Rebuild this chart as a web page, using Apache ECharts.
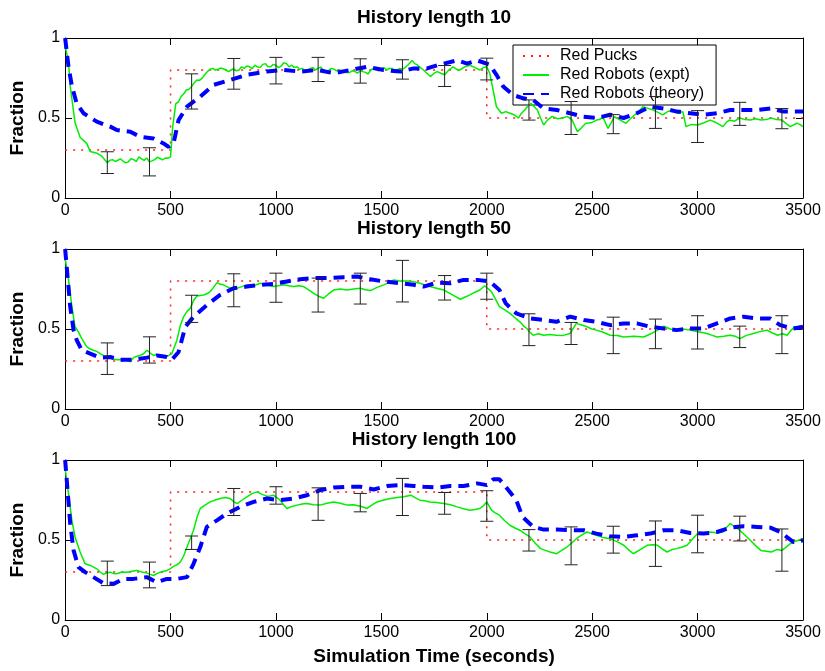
<!DOCTYPE html>
<html>
<head>
<meta charset="utf-8">
<script src="https://cdn.jsdelivr.net/npm/echarts@6/dist/echarts.min.js"></script>
<style>
html,body{margin:0;padding:0;background:#fff;}
#chart{width:825px;height:671px;}
</style>
</head>
<body>
<div id="chart"></div>
<script>
// ---- Data ----
const titles = ['History length 10', 'History length 50', 'History length 100'];
const xTicks = [0, 500, 1000, 1500, 2000, 2500, 3000, 3500];
const yTicks = [0, 0.5, 1];
const seriesNames = ['Red Pucks', 'Red Robots (expt)', 'Red Robots (theory)'];

const pucks = [[0,0.3],[500,0.3],[500,0.8],[2000,0.8],[2000,0.5],[3500,0.5]];

const expt10 = [[0,0.95],[16,0.85],[24,0.70],[47,0.47],[71,0.38],[103,0.34],[119,0.29],[150,0.28],[175,0.26],[200,0.22],[212,0.235],[225,0.24],[237,0.228],[250,0.236],[262,0.245],[275,0.23],[287,0.22],[300,0.226],[312,0.245],[325,0.24],[337,0.228],[350,0.257],[362,0.245],[375,0.235],[387,0.25],[400,0.226],[412,0.232],[425,0.24],[437,0.255],[450,0.247],[462,0.238],[475,0.25],[487,0.248],[500,0.257],[510,0.445],[525,0.59],[537,0.6],[550,0.634],[562,0.65],[575,0.675],[587,0.68],[600,0.697],[612,0.72],[625,0.738],[637,0.735],[650,0.749],[662,0.77],[675,0.79],[687,0.805],[700,0.81],[712,0.8],[725,0.805],[737,0.812],[750,0.808],[762,0.8],[775,0.79],[787,0.8],[800,0.808],[812,0.795],[825,0.8],[837,0.82],[850,0.81],[862,0.825],[875,0.82],[887,0.808],[900,0.83],[912,0.82],[925,0.815],[937,0.835],[950,0.84],[962,0.82],[975,0.82],[987,0.835],[1000,0.83],[1012,0.815],[1025,0.825],[1037,0.845],[1050,0.84],[1062,0.82],[1075,0.83],[1087,0.815],[1100,0.82],[1112,0.805],[1125,0.81],[1137,0.795],[1150,0.80],[1162,0.81],[1175,0.815],[1187,0.8],[1200,0.81],[1212,0.818],[1225,0.8],[1237,0.792],[1250,0.797],[1262,0.81],[1275,0.805],[1287,0.795],[1300,0.80],[1312,0.795],[1325,0.79],[1337,0.783],[1350,0.785],[1362,0.795],[1375,0.79],[1387,0.78],[1400,0.795],[1412,0.79],[1425,0.785],[1437,0.775],[1450,0.80],[1462,0.81],[1475,0.805],[1487,0.795],[1500,0.81],[1512,0.815],[1525,0.8],[1537,0.81],[1550,0.81],[1562,0.8],[1575,0.8],[1587,0.81],[1600,0.805],[1612,0.815],[1625,0.83],[1646,0.86],[1658,0.84],[1670,0.833],[1685,0.815],[1700,0.80],[1716,0.78],[1733,0.76],[1750,0.78],[1765,0.79],[1782,0.78],[1800,0.77],[1820,0.8],[1840,0.82],[1856,0.805],[1872,0.80],[1896,0.82],[1920,0.83],[1944,0.815],[1967,0.80],[1984,0.815],[2000,0.82],[2014,0.78],[2030,0.675],[2046,0.57],[2070,0.53],[2090,0.54],[2110,0.53],[2130,0.52],[2150,0.50],[2165,0.53],[2180,0.55],[2195,0.575],[2210,0.59],[2225,0.57],[2240,0.55],[2255,0.5],[2270,0.456],[2290,0.49],[2310,0.51],[2335,0.495],[2360,0.50],[2382,0.51],[2405,0.487],[2430,0.414],[2450,0.44],[2470,0.467],[2495,0.47],[2520,0.487],[2535,0.49],[2550,0.508],[2575,0.435],[2590,0.47],[2605,0.508],[2630,0.49],[2660,0.467],[2685,0.5],[2710,0.53],[2725,0.545],[2740,0.57],[2765,0.56],[2790,0.55],[2812,0.535],[2835,0.52],[2858,0.54],[2880,0.55],[2905,0.53],[2930,0.54],[2945,0.446],[2970,0.46],[3000,0.456],[3030,0.47],[3060,0.487],[3090,0.47],[3120,0.446],[3135,0.47],[3150,0.487],[3175,0.48],[3200,0.50],[3225,0.49],[3250,0.487],[3275,0.495],[3300,0.487],[3325,0.49],[3350,0.50],[3375,0.49],[3400,0.487],[3420,0.465],[3440,0.446],[3470,0.467],[3485,0.46],[3500,0.446]];

const theory10 = [[0,1],[16,0.82],[32,0.70],[55,0.59],[87,0.53],[150,0.477],[214,0.446],[245,0.425],[309,0.414],[356,0.383],[419,0.372],[467,0.341],[490,0.32],[514,0.34],[538,0.487],[578,0.571],[641,0.634],[704,0.707],[783,0.738],[862,0.77],[957,0.79],[1036,0.80],[1115,0.79],[1195,0.80],[1274,0.78],[1353,0.80],[1432,0.82],[1511,0.80],[1590,0.79],[1653,0.81],[1717,0.81],[1765,0.83],[1796,0.84],[1860,0.86],[1907,0.84],[1955,0.86],[2014,0.833],[2046,0.77],[2078,0.697],[2125,0.644],[2173,0.623],[2220,0.613],[2268,0.56],[2332,0.55],[2395,0.53],[2458,0.508],[2522,0.50],[2585,0.52],[2649,0.50],[2712,0.53],[2775,0.571],[2838,0.56],[2902,0.54],[2965,0.53],[3028,0.52],[3092,0.53],[3155,0.55],[3218,0.55],[3282,0.55],[3345,0.56],[3408,0.54],[3472,0.54],[3500,0.54]];

const err10 = [[200,0.153,0.289],[400,0.138,0.314],[600,0.556,0.776],[800,0.680,0.872],[1000,0.713,0.879],[1200,0.728,0.879],[1400,0.718,0.870],[1600,0.743,0.864],[1800,0.697,0.828],[2000,0.738,0.874],[2200,0.487,0.613],[2400,0.397,0.603],[2600,0.402,0.521],[2800,0.435,0.634],[3000,0.347,0.546],[3200,0.454,0.598],[3400,0.433,0.559]];

const expt50 = [[0,0.943],[16,0.807],[32,0.64],[47,0.514],[63,0.482],[79,0.44],[103,0.388],[118,0.375],[134,0.367],[150,0.36],[166,0.346],[182,0.335],[198,0.325],[220,0.315],[245,0.308],[270,0.31],[293,0.304],[310,0.295],[324,0.321],[340,0.33],[356,0.335],[372,0.345],[388,0.367],[404,0.35],[419,0.335],[435,0.34],[451,0.329],[467,0.335],[483,0.329],[506,0.346],[530,0.43],[546,0.52],[562,0.577],[578,0.61],[593,0.629],[610,0.68],[625,0.706],[641,0.71],[657,0.713],[672,0.72],[688,0.734],[704,0.76],[720,0.79],[736,0.78],[751,0.776],[767,0.765],[783,0.755],[799,0.76],[815,0.755],[838,0.765],[862,0.776],[894,0.77],[925,0.786],[956,0.775],[988,0.765],[1012,0.77],[1036,0.776],[1060,0.77],[1084,0.765],[1108,0.77],[1131,0.765],[1155,0.745],[1179,0.723],[1202,0.705],[1226,0.692],[1250,0.72],[1274,0.744],[1305,0.75],[1337,0.744],[1368,0.75],[1400,0.755],[1424,0.745],[1448,0.74],[1480,0.76],[1511,0.776],[1535,0.79],[1559,0.807],[1590,0.8],[1622,0.80],[1652,0.795],[1683,0.786],[1706,0.775],[1730,0.765],[1762,0.755],[1795,0.744],[1835,0.715],[1875,0.686],[1898,0.7],[1920,0.713],[1944,0.73],[1967,0.744],[1990,0.77],[2022,0.734],[2040,0.69],[2060,0.64],[2085,0.62],[2110,0.598],[2134,0.57],[2157,0.545],[2174,0.52],[2190,0.503],[2205,0.48],[2220,0.461],[2245,0.47],[2270,0.461],[2300,0.465],[2330,0.461],[2362,0.46],[2395,0.472],[2425,0.535],[2450,0.525],[2475,0.514],[2498,0.5],[2520,0.493],[2552,0.48],[2585,0.461],[2618,0.46],[2650,0.45],[2698,0.455],[2745,0.45],[2778,0.47],[2810,0.493],[2840,0.518],[2870,0.5],[2900,0.493],[2932,0.5],[2965,0.493],[2996,0.485],[3028,0.476],[3060,0.465],[3092,0.45],[3124,0.455],[3155,0.461],[3178,0.455],[3200,0.44],[3232,0.46],[3265,0.472],[3298,0.485],[3330,0.493],[3355,0.475],[3380,0.461],[3402,0.47],[3425,0.461],[3442,0.49],[3460,0.514],[3480,0.505],[3500,0.51]];

const theory50 = [[0,1],[24,0.64],[40,0.493],[55,0.43],[79,0.367],[119,0.346],[166,0.321],[214,0.325],[261,0.308],[324,0.308],[388,0.321],[435,0.335],[483,0.325],[506,0.308],[538,0.356],[570,0.514],[609,0.577],[672,0.65],[735,0.713],[799,0.755],[862,0.765],[925,0.776],[988,0.782],[1052,0.797],[1115,0.811],[1179,0.818],[1242,0.818],[1321,0.824],[1385,0.828],[1448,0.811],[1511,0.797],[1590,0.786],[1653,0.776],[1700,0.765],[1765,0.79],[1827,0.786],[1890,0.807],[1955,0.807],[2014,0.797],[2060,0.744],[2090,0.66],[2140,0.598],[2205,0.566],[2270,0.556],[2330,0.545],[2395,0.577],[2460,0.556],[2520,0.545],[2585,0.524],[2650,0.535],[2712,0.535],[2775,0.514],[2838,0.503],[2900,0.493],[2965,0.503],[3028,0.503],[3092,0.535],[3155,0.566],[3218,0.577],[3282,0.566],[3345,0.566],[3392,0.524],[3455,0.503],[3500,0.514]];

const err50 = [[200,0.216,0.413],[400,0.287,0.451],[600,0.541,0.711],[800,0.639,0.845],[1000,0.667,0.849],[1200,0.606,0.818],[1400,0.656,0.849],[1600,0.669,0.929],[1800,0.681,0.834],[2000,0.686,0.849],[2200,0.396,0.595],[2400,0.403,0.541],[2600,0.346,0.574],[2800,0.377,0.562],[3000,0.375,0.583],[3200,0.384,0.518],[3400,0.346,0.583]];

const expt100 = [[0,0.948],[16,0.79],[32,0.623],[47,0.519],[71,0.425],[95,0.351],[119,0.341],[135,0.33],[150,0.32],[166,0.3],[182,0.285],[198,0.295],[214,0.299],[230,0.29],[245,0.289],[270,0.3],[293,0.299],[316,0.305],[340,0.31],[364,0.3],[388,0.293],[404,0.285],[419,0.278],[435,0.29],[451,0.299],[467,0.305],[483,0.31],[498,0.32],[514,0.335],[530,0.345],[546,0.362],[562,0.4],[578,0.456],[594,0.51],[609,0.561],[625,0.64],[641,0.697],[665,0.72],[688,0.738],[712,0.75],[735,0.759],[760,0.765],[783,0.759],[800,0.74],[815,0.728],[840,0.75],[862,0.77],[886,0.79],[910,0.801],[934,0.785],[957,0.774],[972,0.775],[988,0.78],[1004,0.765],[1020,0.749],[1036,0.72],[1052,0.697],[1076,0.71],[1100,0.718],[1124,0.725],[1147,0.728],[1178,0.72],[1210,0.718],[1242,0.73],[1274,0.738],[1305,0.73],[1337,0.718],[1368,0.72],[1400,0.711],[1416,0.705],[1432,0.697],[1456,0.72],[1480,0.738],[1512,0.75],[1543,0.759],[1575,0.765],[1606,0.77],[1640,0.78],[1660,0.765],[1683,0.749],[1706,0.745],[1730,0.738],[1762,0.735],[1795,0.728],[1828,0.72],[1860,0.707],[1890,0.695],[1920,0.686],[1944,0.69],[1967,0.697],[1985,0.715],[2000,0.738],[2022,0.686],[2040,0.67],[2060,0.655],[2085,0.62],[2110,0.592],[2134,0.575],[2157,0.561],[2180,0.54],[2205,0.519],[2230,0.48],[2255,0.446],[2278,0.435],[2300,0.425],[2315,0.42],[2330,0.414],[2355,0.435],[2380,0.456],[2402,0.48],[2425,0.508],[2450,0.53],[2475,0.55],[2498,0.54],[2520,0.529],[2552,0.515],[2585,0.508],[2618,0.49],[2650,0.467],[2672,0.44],[2695,0.414],[2728,0.44],[2760,0.467],[2785,0.47],[2810,0.467],[2832,0.445],[2855,0.425],[2878,0.44],[2900,0.446],[2925,0.455],[2950,0.467],[2975,0.505],[3000,0.54],[3030,0.545],[3060,0.55],[3090,0.545],[3120,0.55],[3138,0.58],[3155,0.603],[3178,0.58],[3200,0.561],[3225,0.53],[3250,0.498],[3275,0.465],[3300,0.435],[3325,0.43],[3350,0.425],[3375,0.44],[3400,0.435],[3420,0.455],[3440,0.477],[3470,0.495],[3500,0.508]];

const theory100 = [[0,1],[24,0.603],[40,0.435],[63,0.331],[95,0.299],[134,0.268],[182,0.23],[230,0.226],[277,0.257],[324,0.257],[388,0.268],[435,0.236],[483,0.257],[530,0.257],[578,0.268],[609,0.351],[641,0.456],[672,0.582],[720,0.623],[767,0.665],[830,0.707],[894,0.738],[957,0.759],[1020,0.749],[1084,0.759],[1147,0.78],[1210,0.812],[1274,0.828],[1337,0.833],[1400,0.833],[1464,0.816],[1527,0.837],[1590,0.843],[1653,0.838],[1700,0.833],[1765,0.828],[1827,0.837],[1890,0.837],[1955,0.854],[2000,0.843],[2030,0.879],[2060,0.879],[2090,0.833],[2140,0.749],[2170,0.644],[2220,0.582],[2270,0.565],[2330,0.565],[2395,0.561],[2460,0.561],[2520,0.54],[2585,0.523],[2650,0.519],[2712,0.529],[2775,0.54],[2838,0.561],[2900,0.561],[2965,0.544],[3028,0.54],[3092,0.55],[3155,0.577],[3218,0.586],[3282,0.582],[3345,0.577],[3392,0.55],[3455,0.487],[3500,0.498]];

const err100 = [[200,0.215,0.368],[400,0.201,0.362],[600,0.441,0.525],[800,0.653,0.822],[1000,0.724,0.833],[1200,0.623,0.826],[1400,0.676,0.791],[1600,0.653,0.885],[1800,0.661,0.797],[2000,0.617,0.808],[2200,0.431,0.565],[2400,0.345,0.582],[2600,0.418,0.586],[2800,0.335,0.619],[3000,0.42,0.655],[3200,0.494,0.649],[3400,0.305,0.569]];

const exptSets = [expt10, expt50, expt100];
const theorySets = [theory10, theory50, theory100];
const errSets = [err10, err50, err100];

// ---- Layout / style ----
const FONT = 'Liberation Sans, Arial, Helvetica, sans-serif';
const gridTops = [38, 249, 460];
const gridH = 160;
const gridLeft = 65, gridW = 738;

const grids = [], xAxes = [], yAxes = [], series = [], graphics = [];

gridTops.forEach((top, i) => {
  grids.push({left: gridLeft, top: top, width: gridW, height: gridH, containLabel: false});
  const axLine = {show: true, onZero: false, lineStyle: {color: '#000', width: 1}};
  const tick = {show: true, inside: true, length: 7, lineStyle: {color: '#000', width: 1}};
  xAxes.push({
    type: 'value', gridIndex: i, position: 'bottom', min: xTicks[0], max: xTicks[xTicks.length-1], interval: 500,
    axisLine: axLine, axisTick: tick, splitLine: {show: false},
    axisLabel: {color: '#000', fontSize: 16, fontFamily: FONT, margin: 5, formatter: v => String(v)},
    name: i === 2 ? 'Simulation Time (seconds)' : '',
    nameLocation: 'middle', nameGap: 27,
    nameTextStyle: {color: '#000', fontSize: 19, fontWeight: 'bold', fontFamily: FONT}
  });
  xAxes.push({
    type: 'value', gridIndex: i, position: 'top', min: xTicks[0], max: xTicks[xTicks.length-1], interval: 500,
    axisLine: axLine, axisTick: tick, splitLine: {show: false}, axisLabel: {show: false}
  });
  yAxes.push({
    type: 'value', gridIndex: i, position: 'left', min: yTicks[0], max: yTicks[yTicks.length-1], interval: 0.5,
    axisLine: axLine, axisTick: tick, splitLine: {show: false},
    axisLabel: {color: '#000', fontSize: 16, fontFamily: FONT, margin: 5, formatter: v => String(v)},
    name: 'Fraction', nameLocation: 'middle', nameGap: 35,
    nameTextStyle: {color: '#000', fontSize: 19, fontWeight: 'bold', fontFamily: FONT}
  });
  yAxes.push({
    type: 'value', gridIndex: i, position: 'right', min: yTicks[0], max: yTicks[yTicks.length-1], interval: 0.5,
    axisLine: axLine, axisTick: tick, splitLine: {show: false}, axisLabel: {show: false}
  });
  const xi = i * 2, yi = i * 2;
  series.push({
    name: seriesNames[0], type: 'line', xAxisIndex: xi, yAxisIndex: yi, data: pucks,
    showSymbol: false, symbol: 'none', z: 3, animation: false,
    lineStyle: {color: '#ff2020', width: 1.5, type: [2, 6]}, itemStyle: {color: '#ff2020'}
  });
  series.push({
    name: seriesNames[1], type: 'line', xAxisIndex: xi, yAxisIndex: yi, data: exptSets[i],
    showSymbol: false, symbol: 'none', z: 4, animation: false,
    lineStyle: {color: '#00ee00', width: 1.5}, itemStyle: {color: '#00ee00'}
  });
  series.push({
    name: seriesNames[2], type: 'line', xAxisIndex: xi, yAxisIndex: yi, data: theorySets[i],
    showSymbol: false, symbol: 'none', z: 5, animation: false,
    lineStyle: {color: '#0000ff', width: 4, type: [11, 7]}, itemStyle: {color: '#0000ff'}
  });
  series.push({
    name: 'errorbars', type: 'custom', xAxisIndex: xi, yAxisIndex: yi, data: errSets[i], z: 6, animation: false,
    encode: {x: 0, y: [1, 2]},
    renderItem: function (params, api) {
      const x = api.value(0), lo = api.value(1), hi = api.value(2);
      const p1 = api.coord([x, lo]), p2 = api.coord([x, hi]);
      const w = 6.5;
      const st = {stroke: '#222', lineWidth: 1};
      return {type: 'group', children: [
        {type: 'line', shape: {x1: p1[0], y1: p1[1], x2: p2[0], y2: p2[1]}, style: st},
        {type: 'line', shape: {x1: p1[0]-w, y1: p1[1], x2: p1[0]+w, y2: p1[1]}, style: st},
        {type: 'line', shape: {x1: p2[0]-w, y1: p2[1], x2: p2[0]+w, y2: p2[1]}, style: st}
      ]};
    }
  });
  graphics.push({
    type: 'text', x: gridLeft + gridW / 2, y: top - 20,
    style: {text: titles[i], font: 'bold 19px ' + FONT, fill: '#000', align: 'center', verticalAlign: 'middle', textAlign: 'center', textVerticalAlign: 'middle'}
  });
});

const chart = echarts.init(document.getElementById('chart'), null, {renderer: 'canvas'});
chart.setOption({
  animation: false,
  backgroundColor: '#fff',
  grid: grids,
  xAxis: xAxes,
  yAxis: yAxes,
  graphic: graphics,
  legend: {
    data: seriesNames, orient: 'vertical', left: 513, top: 45, z: 1,
    backgroundColor: '#fff', borderColor: '#000', borderWidth: 1, borderRadius: 0,
    padding: [3, 12, 3, 9], itemGap: 3, itemWidth: 26, itemHeight: 16,
    itemStyle: {opacity: 0},
    textStyle: {color: '#000', fontSize: 16, fontFamily: FONT, padding: [0, 0, 0, 6]},
    selectedMode: false
  },
  series: series
});
</script>
</body>
</html>
